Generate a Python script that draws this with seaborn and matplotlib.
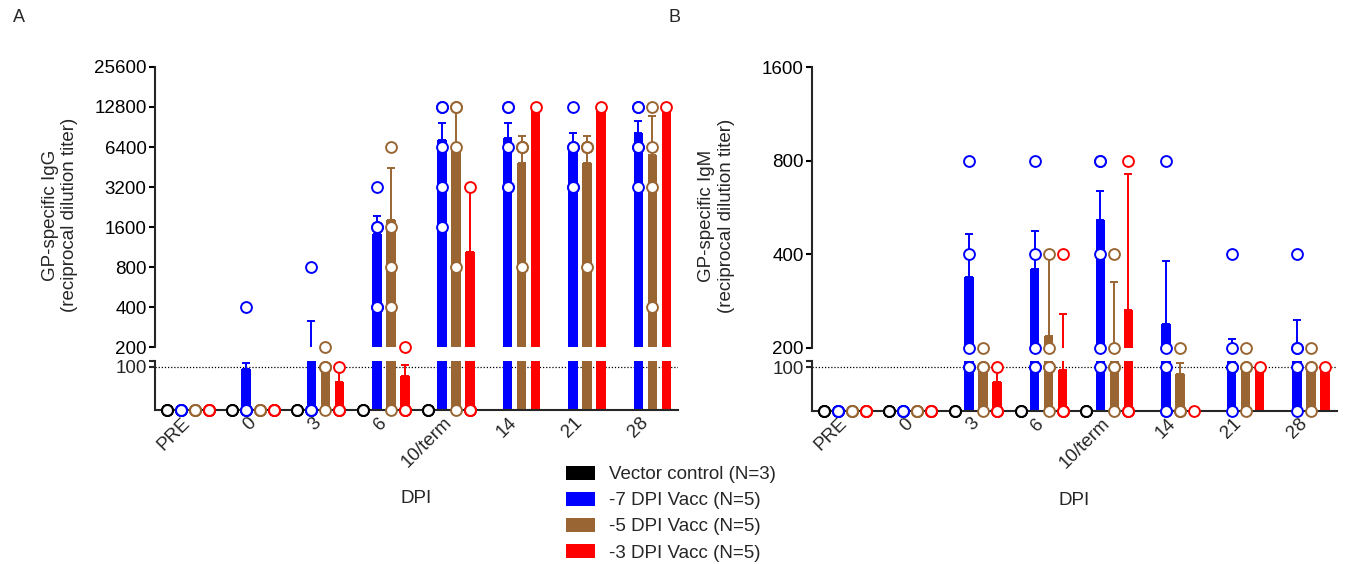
import numpy as np
import pandas as pd
import matplotlib
matplotlib.use("Agg")
import matplotlib.pyplot as plt
from matplotlib.patches import Patch
from matplotlib.ticker import NullLocator
import seaborn as sns

# ---------------- data ----------------
days = ["PRE", "0", "3", "6", "10/term", "14", "21", "28"]
groups = ["Vector control (N=3)", "-7 DPI Vacc (N=5)", "-5 DPI Vacc (N=5)", "-3 DPI Vacc (N=5)"]
colors = ["#000000", "#0000FF", "#996633", "#FF0000"]
N = None

# Panel A: GP-specific IgG (bar = mean, err = top of error bar)
igg_mean_vec = [N, N, N, N, N, N, N, N]
igg_mean_m7 = [N, 94, 160, 1410, 7230, 7520, 6300, 8200]
igg_mean_m5 = [N, N, 108, 1806, 6400, 4880, 4880, 5570]
igg_mean_m3 = [N, N, 65, 79, 1043, 12800, 12800, 12800]
igg_err_vec = [N, N, N, N, N, N, N, N]
igg_err_m7 = [N, 108, 314, 1936, 9650, 9760, 8100, 10040]
igg_err_m5 = [N, N, N, 4425, 12800, 7740, 7740, 10950]
igg_err_m3 = [N, N, 100, 105, 3200, N, N, N]
igg_pts_vec = [[0, 0, 0], [0, 0, 0], [0, 0, 0], [0, 0, 0], [0, 0, 0], [], [], []]
igg_pts_m7 = [[0, 0, 0, 0, 0], [400, 0, 0, 0, 0], [800, 0, 0, 0, 0],
              [3200, 1600, 1600, 400, 400], [12800, 12800, 6400, 3200, 1600],
              [12800, 12800, 6400, 3200, 3200], [12800, 6400, 6400, 3200, 3200],
              [12800, 12800, 6400, 6400, 3200]]
igg_pts_m5 = [[0, 0, 0, 0, 0], [0, 0, 0, 0, 0], [200, 100, 100, 100, 0],
              [6400, 1600, 800, 400, 0], [12800, 12800, 6400, 800, 0],
              [6400, 6400, 6400, 800], [6400, 6400, 6400, 800], [12800, 6400, 3200, 400]]
igg_pts_m3 = [[0, 0, 0, 0, 0], [0, 0, 0, 0, 0], [100, 0, 0, 0, 0], [200, 0, 0, 0, 0],
              [3200, 0, 0, 0, 0], [12800], [12800], [12800]]

# Panel B: GP-specific IgM
igm_mean_vec = [N, N, N, N, N, N, N, N]
igm_mean_m7 = [N, N, 337, 358, 517, 238, 160, 160]
igm_mean_m5 = [N, N, 108, 218, 160, 85, 105, 105]
igm_mean_m3 = [N, N, 65, 94, 265, N, 100, 100]
igm_err_vec = [N, N, N, N, N, N, N, N]
igm_err_m7 = [N, N, 465, 474, 637, 382, 214, 246]
igm_err_m5 = [N, N, N, 400, 327, 109, N, N]
igm_err_m3 = [N, N, 100, 257, 727, N, N, N]
igm_pts_vec = [[0, 0, 0], [0, 0, 0], [0, 0, 0], [0, 0, 0], [0, 0, 0], [], [], []]
igm_pts_m7 = [[0, 0, 0, 0, 0], [0, 0, 0, 0, 0], [800, 400, 200, 100, 100],
              [800, 400, 200, 100, 100], [800, 800, 400, 200, 100], [800, 200, 100, 0, 0],
              [400, 200, 100, 100, 0], [400, 200, 200, 100, 0]]
igm_pts_m5 = [[0, 0, 0, 0, 0], [0, 0, 0, 0, 0], [200, 100, 100, 100, 0],
              [400, 200, 100, 100, 0], [400, 200, 100, 100, 0], [200, 0, 0, 0],
              [200, 100, 100, 0], [200, 100, 100, 0]]
igm_pts_m3 = [[0, 0, 0, 0, 0], [0, 0, 0, 0, 0], [100, 0, 0, 0, 0], [400, 0, 0, 0, 0],
              [800, 0, 0, 0, 0], [0], [100], [100]]

igg_ticks = [200, 400, 800, 1600, 3200, 6400, 12800, 25600]
igm_ticks = [200, 400, 800, 1600]

# ---------------- style ----------------
sns.set_theme(style="ticks")
FS = 13.5
plt.rcParams["font.family"] = ["Liberation Sans", "DejaVu Sans"]
plt.rcParams["axes.linewidth"] = 1.5

W, H = 1346, 564
fig = plt.figure(figsize=(W / 100, H / 100), dpi=100)


def fr(x0, y_top, x1, y_bot):
    return [x0 / W, 1 - y_bot / H, (x1 - x0) / W, (y_bot - y_top) / H]


BAR_WIDTH = 0.855
n_g = len(groups)
each = BAR_WIDTH / n_g
offsets = np.linspace(0, BAR_WIDTH - each, n_g)
offsets -= offsets.mean()


def draw_panel(ax_hi, ax_lo, means, errs, pts, hi_ticks, lo_top, ylabel):
    ax_hi.set_yscale("log", base=2)
    rows = []
    for g, name in enumerate(groups):
        for d, day in enumerate(days):
            if means[g][d] is not None:
                rows.append({"DPI": day, "group": name, "value": means[g][d]})
    df = pd.DataFrame(rows)
    for ax in (ax_hi, ax_lo):
        sns.barplot(data=df, x="DPI", y="value", hue="group", order=days,
                    hue_order=groups, palette=colors, saturation=1, errorbar=None,
                    width=BAR_WIDTH, gap=0.32, linewidth=0, legend=False, ax=ax,
                    zorder=2)
        for g in range(n_g):
            for d in range(len(days)):
                m, e = means[g][d], errs[g][d]
                if m is None or e is None:
                    continue
                ax.errorbar([d + offsets[g]], [m], yerr=[[0], [e - m]], fmt="none",
                            ecolor=colors[g], elinewidth=1.4, capsize=2.6,
                            capthick=1.4, zorder=3)
    for g in range(n_g):
        for d in range(len(days)):
            vals = pts[g][d]
            hi = [v for v in vals if v >= 200]
            lo = [v for v in vals if v < 200]
            x = d + offsets[g]
            for ax, vv in ((ax_hi, hi), (ax_lo, lo)):
                if vv:
                    ax.plot([x] * len(vv), vv, "o", mfc="white", mec=colors[g],
                            ms=7.8, mew=1.4, clip_on=False, zorder=6)

    # upper axes
    ax_hi.set_xlim(-0.5, 7.5)
    ax_hi.set_ylim(hi_ticks[0], hi_ticks[-1])
    ax_hi.set_yticks(hi_ticks)
    ax_hi.set_yticklabels([str(t) for t in hi_ticks], fontsize=FS)
    ax_hi.yaxis.set_minor_locator(NullLocator())
    for s in ("top", "right", "bottom"):
        ax_hi.spines[s].set_visible(False)
    ax_hi.tick_params(axis="x", bottom=False, labelbottom=False)
    ax_hi.tick_params(axis="y", length=4.5, width=1.5, pad=1.5, colors="black")
    ax_hi.set_xlabel("")
    ax_hi.set_ylabel(ylabel, fontsize=FS)
    ax_hi.yaxis.set_label_coords(-0.147, 0.471)

    # lower axes
    ax_lo.set_xlim(-0.5, 7.5)
    ax_lo.set_ylim(0, lo_top)
    ax_lo.set_yticks([100, lo_top])
    ax_lo.set_yticklabels(["100", ""], fontsize=FS)
    ax_lo.axhline(100, color="black", ls=(0, (1, 1.5)), lw=0.9, zorder=1)
    for s in ("top", "right"):
        ax_lo.spines[s].set_visible(False)
    ax_lo.tick_params(axis="y", length=4.5, width=1.5, pad=1.5)
    ax_lo.set_xticks(range(len(days)))
    ax_lo.set_xticklabels(days, rotation=45, ha="right", va="center",
                          rotation_mode="anchor", fontsize=FS)
    ax_lo.tick_params(axis="x", length=0, pad=7.5)
    ax_lo.set_ylabel("")
    ax_lo.set_xlabel("DPI", fontsize=FS)
    ax_lo.xaxis.set_label_coords(0.5, -1.64)


axA_hi = fig.add_axes(fr(155, 67, 678, 347))
axA_lo = fig.add_axes(fr(155, 361, 678, 410))
axB_hi = fig.add_axes(fr(812, 67, 1337, 348))
axB_lo = fig.add_axes(fr(812, 361, 1337, 410.5))

draw_panel(axA_hi, axA_lo,
           [igg_mean_vec, igg_mean_m7, igg_mean_m5, igg_mean_m3],
           [igg_err_vec, igg_err_m7, igg_err_m5, igg_err_m3],
           [igg_pts_vec, igg_pts_m7, igg_pts_m5, igg_pts_m3],
           igg_ticks, 113.2, "GP-specific IgG\n(reciprocal dilution titer)")
draw_panel(axB_hi, axB_lo,
           [igm_mean_vec, igm_mean_m7, igm_mean_m5, igm_mean_m3],
           [igm_err_vec, igm_err_m7, igm_err_m5, igm_err_m3],
           [igm_pts_vec, igm_pts_m7, igm_pts_m5, igm_pts_m3],
           igm_ticks, 114.5, "GP-specific IgM\n(reciprocal dilution titer)")

fig.text(19 / W, 1 - 18 / H, "A", ha="center", va="center", fontsize=13)
fig.text(675 / W, 1 - 18 / H, "B", ha="center", va="center", fontsize=13)

handles = [Patch(facecolor=c, edgecolor="none", label=l) for c, l in zip(colors, groups)]
fig.legend(handles=handles, loc="upper left", bbox_to_anchor=(566 / W, 1 - 466 / H),
           frameon=False, borderpad=0, borderaxespad=0, handlelength=1.55,
           handleheight=0.75, handletextpad=0.75, labelspacing=0.46, fontsize=FS)

fig.savefig("out.png", dpi=100)
